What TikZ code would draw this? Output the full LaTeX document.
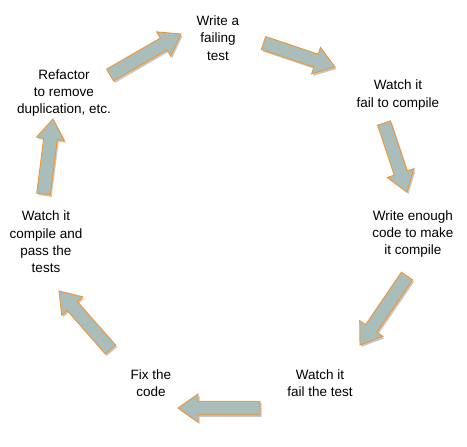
\documentclass[tikz,border=0pt]{standalone}
\usepackage{fontspec}
\setmainfont{Liberation Sans}
\usetikzlibrary{calc,shadows}
\definecolor{arrfill}{HTML}{A9BDBB}
\definecolor{arredge}{HTML}{EE9636}
\tikzset{
  lbl/.style={align=center,font=\fontsize{13.5}{17.3}\selectfont,inner sep=0pt},
  barrow/.style={fill=arrfill,draw=arredge,line width=0.9pt,line join=miter,
    drop shadow={shadow xshift=1.5pt,shadow yshift=-2pt,opacity=0.22,fill=black}}
}
\newcommand{\blockarr}[2]{%
  \path ($(#2)!20pt!(#1)$) coordinate (hb);
  \draw[barrow] ($(#1)!6.8pt!90:(#2)$) -- ($(hb)!6.8pt!90:(#2)$) -- ($(hb)!14pt!90:(#2)$)
    -- (#2) -- ($(hb)!14pt!-90:(#2)$) -- ($(hb)!6.8pt!-90:(#2)$) -- ($(#1)!6.8pt!-90:(#2)$) -- cycle;}
\begin{document}
\begin{tikzpicture}[x=1pt,y=-1pt]
\useasboundingbox (0,0) rectangle (467,447);
\node[lbl] (t1) at (218,38) {Write a\\failing\\test};
\node[lbl] (t2) at (398,95) {Watch it\\fail to compile};
\node[lbl] (t3) at (413,234) {Write enough\\code to make\\it compile};
\node[lbl] (t4) at (320,383) {Watch it\\fail the test};
\node[lbl] (t5) at (151,383) {Fix the\\code};
\node[lbl] (t6) at (46,242) {Watch it\\compile and\\pass the\\tests};
\node[lbl] (t7) at (64,93) {Refactor\\to remove\\duplication, etc.};
\coordinate (a1s) at (263.5,43); \coordinate (a1e) at (335,67);
\coordinate (a2s) at (384,123); \coordinate (a2e) at (407,192);
\coordinate (a3s) at (407,276); \coordinate (a3e) at (360,345);
\coordinate (a4s) at (260,408); \coordinate (a4e) at (178,408);
\coordinate (a5s) at (110.5,349.5); \coordinate (a5e) at (59,291);
\coordinate (a6s) at (43.5,194); \coordinate (a6e) at (53,119);
\coordinate (a7s) at (110,75); \coordinate (a7e) at (181,34);
\blockarr{a1s}{a1e}
\blockarr{a2s}{a2e}
\blockarr{a3s}{a3e}
\blockarr{a4s}{a4e}
\blockarr{a5s}{a5e}
\blockarr{a6s}{a6e}
\blockarr{a7s}{a7e}
\end{tikzpicture}
\end{document}
